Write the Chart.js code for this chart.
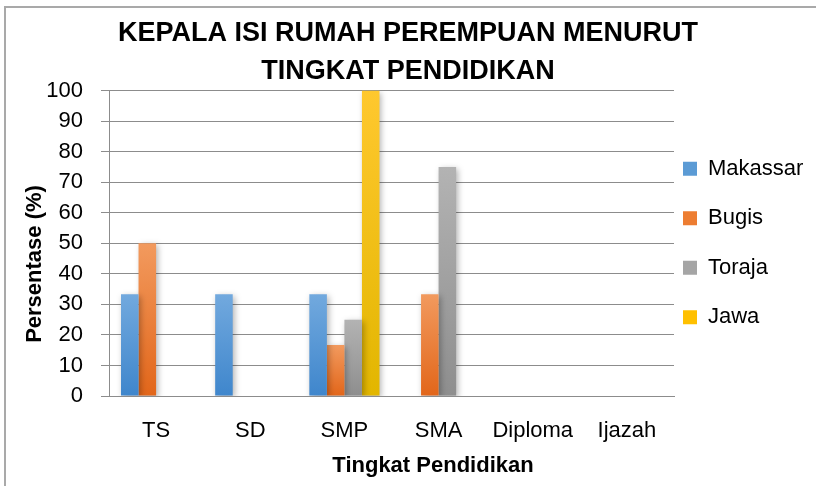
<!DOCTYPE html>
<html>
<head>
<meta charset="utf-8">
<script src="https://cdn.jsdelivr.net/npm/chart.js@4.4.1/dist/chart.umd.min.js"></script>
<style>
    html, body { margin: 0; padding: 0; background: #fff; }
    .wrap { position: relative; width: 816px; height: 486px; overflow: hidden; }
    .frame {
        position: absolute; left: 4px; top: 6px; width: 830px; height: 500px;
        border-top: 2px solid #a9a9a9; border-left: 2px solid #a9a9a9;
        pointer-events: none;
    }
</style>
</head>
<body>
<div class="wrap">
    <canvas id="eduChart" width="816" height="486"></canvas>
    <div class="frame"></div>
</div>
<script>
// Data
const categories = ['TS', 'SD', 'SMP', 'SMA', 'Diploma', 'Ijazah'];
const makassar = [33.3, 33.3, 33.3, 0, 0, 0];
const bugis = [50, 0, 16.7, 33.3, 0, 0];
const toraja = [0, 0, 25, 75, 0, 0];
const jawa = [0, 0, 100, 0, 0, 0];
const yMin = 0;
const yMax = 100;
const yStep = 10;

const FONT = '"Liberation Sans", Arial, sans-serif';
const LEGEND_PAD = 27.5;

// vertical gradient per bar, light at top, dark at the base
function barFill(top, bottom) {
    return function(ctx) {
        const chart = ctx.chart;
        if (!chart.chartArea || ctx.type !== 'data' || !ctx.parsed) return bottom;
        const y = chart.scales.y;
        const yTop = y.getPixelForValue(ctx.parsed.y);
        const yBase = y.getPixelForValue(0);
        if (yBase - yTop < 1) return bottom;
        const g = chart.ctx.createLinearGradient(0, yTop, 0, yBase);
        g.addColorStop(0, top);
        g.addColorStop(1, bottom);
        return g;
    };
}

const legendColors = ['#5b9bd5', '#ed7d31', '#a5a5a5', '#ffc000'];

// soft shadow behind the bars
const barShadow = {
    id: 'barShadow',
    beforeDatasetsDraw(chart) {
        const c = chart.ctx;
        c.save();
        c.shadowColor = 'rgba(0,0,0,0.3)';
        c.shadowBlur = 6;
        c.shadowOffsetX = 2;
        c.shadowOffsetY = 2;
    },
    afterDatasetsDraw(chart) {
        chart.ctx.restore();
    }
};

// pull the legend a little closer to the plot (labels.padding also sets row gap)
const legendShift = {
    id: 'legendShift',
    afterLayout(chart) {
        if (chart.legend) chart.legend.left = chart.chartArea.right + 9 - LEGEND_PAD;
    }
};

// axis titles (placed like the original, not centred on the plot)
const axisTitles = {
    id: 'axisTitles',
    afterDraw(chart) {
        const c = chart.ctx;
        c.save();
        c.font = 'bold 22px ' + FONT;
        c.fillStyle = '#000';
        c.textAlign = 'center';
        c.textBaseline = 'middle';
        c.fillText('Tingkat Pendidikan', 433, 466);
        c.translate(35, 264);
        c.rotate(-Math.PI / 2);
        c.fillText('Persentase (%)', 0, 0);
        c.restore();
    }
};

const ctx = document.getElementById('eduChart').getContext('2d');
const eduChart = new Chart(ctx, {
    type: 'bar',
    data: {
        labels: categories,
        datasets: [{
            label: 'Makassar',
            data: makassar,
            backgroundColor: barFill('#72a9de', '#3f86cc')
        }, {
            label: 'Bugis',
            data: bugis,
            backgroundColor: barFill('#f29a5e', '#e2661a')
        }, {
            label: 'Toraja',
            data: toraja,
            backgroundColor: barFill('#b3b3b3', '#8e8e8e')
        }, {
            label: 'Jawa',
            data: jawa,
            backgroundColor: barFill('#ffc82e', '#e2b600')
        }]
    },
    options: {
        responsive: false,
        animation: false,
        categoryPercentage: 0.745,
        barPercentage: 1,
        layout: {
            padding: 0
        },
        plugins: {
            title: {
                display: true,
                text: ['KEPALA ISI RUMAH PEREMPUAN MENURUT', 'TINGKAT PENDIDIKAN'],
                color: '#000',
                font: { family: FONT, size: 27, weight: 'bold', lineHeight: 1.4 },
                padding: { top: 15, bottom: 0 }
            },
            legend: {
                position: 'right',
                maxWidth: 142,
                labels: {
                    color: '#000',
                    font: { family: FONT, size: 22 },
                    boxWidth: 14,
                    boxHeight: 14,
                    padding: LEGEND_PAD,
                    generateLabels(chart) {
                        return chart.data.datasets.map((ds, i) => ({
                            text: ds.label,
                            fillStyle: legendColors[i],
                            strokeStyle: legendColors[i],
                            lineWidth: 0,
                            hidden: false,
                            datasetIndex: i
                        }));
                    }
                }
            },
            tooltip: { enabled: false }
        },
        scales: {
            x: {
                afterFit(scale) { scale.height = 90; },
                grid: { display: false, drawTicks: false },
                border: { color: '#8c8c8c', width: 1 },
                ticks: {
                    color: '#000',
                    font: { family: FONT, size: 22 },
                    padding: 22,
                    maxRotation: 0,
                    autoSkip: false
                }
            },
            y: {
                min: yMin,
                max: yMax,
                afterFit(scale) { scale.width = 109; },
                grid: { color: '#8c8c8c', tickLength: 8 },
                border: { color: '#8c8c8c', width: 1 },
                ticks: {
                    stepSize: yStep,
                    color: '#000',
                    font: { family: FONT, size: 22 },
                    padding: 18
                }
            }
        }
    },
    plugins: [barShadow, legendShift, axisTitles]
});
</script>
</body>
</html>
